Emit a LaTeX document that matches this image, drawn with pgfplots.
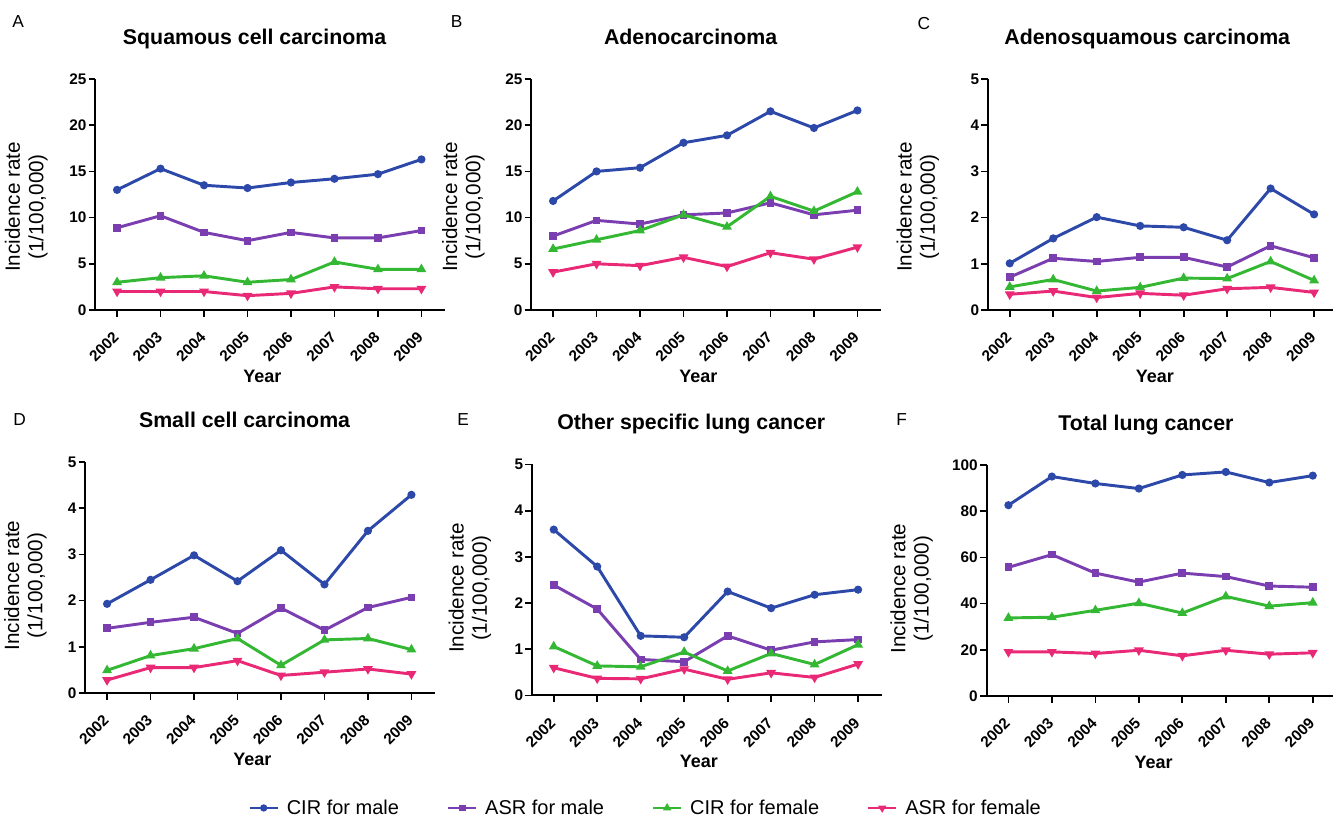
\documentclass[border=0pt]{standalone}
\usepackage{fontspec}
\setmainfont{Liberation Sans}
\usepackage{pgfplots}
\usepackage{pgfplotstable}
\pgfplotsset{compat=1.18}

\definecolor{cblue}{RGB}{44,72,168}
\definecolor{cpurple}{RGB}{122,62,176}
\definecolor{cgreen}{RGB}{52,184,52}
\definecolor{cpink}{RGB}{233,40,118}

\pgfplotstableread{
x cm am cf af
0 13.0 8.9 3.0 2.0
1 15.3 10.2 3.5 2.0
2 13.5 8.4 3.7 2.0
3 13.2 7.5 3.0 1.55
4 13.8 8.4 3.3 1.8
5 14.2 7.8 5.2 2.5
6 14.7 7.8 4.4 2.3
7 16.3 8.6 4.4 2.3
}\dataA
\pgfplotstableread{
x cm am cf af
0 11.8 8.0 6.6 4.1
1 15.0 9.7 7.6 5.0
2 15.4 9.3 8.6 4.8
3 18.1 10.3 10.3 5.7
4 18.9 10.5 9.0 4.7
5 21.5 11.6 12.3 6.2
6 19.7 10.3 10.7 5.5
7 21.6 10.8 12.8 6.8
}\dataB
\pgfplotstableread{
x cm am cf af
0 1.01 0.71 0.50 0.34
1 1.55 1.12 0.66 0.41
2 2.01 1.05 0.41 0.27
3 1.82 1.14 0.49 0.36
4 1.79 1.14 0.69 0.32
5 1.51 0.93 0.68 0.46
6 2.63 1.39 1.05 0.49
7 2.07 1.13 0.64 0.38
}\dataC
\pgfplotstableread{
x cm am cf af
0 1.93 1.40 0.49 0.28
1 2.45 1.53 0.81 0.55
2 2.98 1.64 0.96 0.55
3 2.42 1.29 1.18 0.70
4 3.09 1.84 0.60 0.38
5 2.35 1.36 1.15 0.45
6 3.51 1.85 1.18 0.52
7 4.29 2.07 0.94 0.41
}\dataD
\pgfplotstableread{
x cm am cf af
0 3.59 2.39 1.06 0.60
1 2.79 1.87 0.64 0.37
2 1.29 0.78 0.62 0.36
3 1.26 0.73 0.94 0.57
4 2.25 1.29 0.53 0.35
5 1.89 0.98 0.91 0.49
6 2.18 1.16 0.67 0.39
7 2.29 1.21 1.10 0.68
}\dataE
\pgfplotstableread{
x cm am cf af
0 82.6 55.7 33.8 19.1
1 95.0 61.2 34.1 19.1
2 92.0 53.2 37.1 18.4
3 89.8 49.3 40.2 19.8
4 95.7 53.2 35.9 17.4
5 97.0 51.7 43.1 19.8
6 92.4 47.6 38.9 18.1
7 95.4 47.1 40.4 18.7
}\dataF

\pgfplotsset{
  panel/.style={
    scale only axis,
    width=262.5pt, height=173.25pt,
    anchor=south west,
    axis lines=left,
    axis line style={-, line width=1.5pt, black},
    tick style={line width=1.3pt, black},
    tick align=outside,
    major tick length=5pt,
    xmin=-0.5, xmax=7.55, ymin=0,
    xtick={0,...,7},
    xticklabels={2002,2003,2004,2005,2006,2007,2008,2009},
    xticklabel style={rotate=45, anchor=east, font=\bfseries\fontsize{11.5}{11.5}\selectfont, inner sep=1pt},
    xticklabel shift=13pt,
    yticklabel style={font=\bfseries\fontsize{11.5}{11.5}\selectfont, inner sep=1.5pt},
    /pgf/number format/assume math mode=true,
    title style={at={(0.455,1)}, anchor=base, yshift=20pt, font=\bfseries\fontsize{16}{16}\selectfont},
    xlabel={Year},
    xlabel style={at={(axis description cs:0.477,-0.312)}, anchor=base, font=\bfseries\fontsize{13.5}{13.5}\selectfont},
    ylabel={Incidence rate\\(1/100,000)},
    ylabel style={align=center, anchor=south, rotate=0, font=\fontsize{15.5}{17.5}\selectfont},
    clip=false,
  },
  sm/.style={cblue, line width=2.2pt, mark=*, mark size=1.9pt},
  sa/.style={cpurple, line width=2.2pt, mark=square*, mark size=1.8pt},
  sf/.style={cgreen, line width=2.2pt, mark=triangle*, mark size=2.1pt},
  sp/.style={cpink, line width=2.2pt, mark=triangle*, mark size=2.1pt, every mark/.append style={rotate=180}},
}

\begin{document}
\begin{tikzpicture}
% Panel A
\begin{axis}[panel, at={(71.5pt,381pt)}, ymax=25, ytick={0,5,...,25},
  title={Squamous cell carcinoma},
  ylabel style={at={(axis description cs:-0.123,0.446)}}]
\addplot[sm] table[x=x,y=cm]{\dataA};
\addplot[sa] table[x=x,y=am]{\dataA};
\addplot[sf] table[x=x,y=cf]{\dataA};
\addplot[sp] table[x=x,y=af]{\dataA};
\end{axis}
% Panel B
\begin{axis}[panel, at={(398.5pt,381pt)}, ymax=25, ytick={0,5,...,25},
  title={Adenocarcinoma},
  ylabel style={at={(axis description cs:-0.12,0.446)}}]
\addplot[sm] table[x=x,y=cm]{\dataB};
\addplot[sa] table[x=x,y=am]{\dataB};
\addplot[sf] table[x=x,y=cf]{\dataB};
\addplot[sp] table[x=x,y=af]{\dataB};
\end{axis}
% Panel C
\begin{axis}[panel, at={(741pt,381pt)}, ymax=5, ytick={0,1,...,5},
  title={Adenosquamous carcinoma},
  ylabel style={at={(axis description cs:-0.126,0.446)}}]
\addplot[sm] table[x=x,y=cm]{\dataC};
\addplot[sa] table[x=x,y=am]{\dataC};
\addplot[sf] table[x=x,y=cf]{\dataC};
\addplot[sp] table[x=x,y=af]{\dataC};
\end{axis}
% Panel D
\begin{axis}[panel, at={(64pt,93.75pt)}, ymax=5, ytick={0,1,...,5},
  title={Small cell carcinoma},
  ylabel style={at={(axis description cs:-0.097,0.465)}}]
\addplot[sm] table[x=x,y=cm]{\dataD};
\addplot[sa] table[x=x,y=am]{\dataD};
\addplot[sf] table[x=x,y=cf]{\dataD};
\addplot[sp] table[x=x,y=af]{\dataD};
\end{axis}
% Panel E
\begin{axis}[panel, at={(399pt,91.9pt)}, ymax=5, ytick={0,1,...,5},
  title={Other specific lung cancer},
  ylabel style={at={(axis description cs:-0.103,0.465)}},
  legend columns=4,
  legend style={draw=none, fill=none, at={(0.326,-0.487)}, anchor=center,
    font=\fontsize{15}{15}\selectfont,
    /tikz/every even column/.append style={column sep=34pt},
    /tikz/every odd column/.append style={column sep=4pt}},
  legend image code/.code={\draw[mark repeat=2,mark phase=2,#1,line width=1.6pt] plot coordinates {(0pt,0pt) (10.5pt,0pt) (21pt,0pt)};}]
\addplot[sm] table[x=x,y=cm]{\dataE};
\addplot[sa] table[x=x,y=am]{\dataE};
\addplot[sf] table[x=x,y=cf]{\dataE};
\addplot[sp] table[x=x,y=af]{\dataE};
\legend{CIR for male, ASR for male, CIR for female, ASR for female}
\end{axis}
% Panel F
\begin{axis}[panel, at={(740pt,91.5pt)}, ymax=100, ytick={0,20,...,100},
  title={Total lung cancer},
  ylabel style={at={(axis description cs:-0.14,0.465)}}]
\addplot[sm] table[x=x,y=cm]{\dataF};
\addplot[sa] table[x=x,y=am]{\dataF};
\addplot[sf] table[x=x,y=cf]{\dataF};
\addplot[sp] table[x=x,y=af]{\dataF};
\end{axis}
% panel letters
\begin{scope}[every node/.style={anchor=north west, inner sep=0pt, font=\fontsize{13}{13}\selectfont}]
\node at (9pt,602pt) {A};
\node at (338pt,602pt) {B};
\node at (688pt,600.5pt) {C};
\node at (9.75pt,303.75pt) {D};
\node at (342.75pt,303.75pt) {E};
\node at (672pt,303.75pt) {F};
\end{scope}
\pgfresetboundingbox
\path[use as bounding box] (0pt,0pt) rectangle (999.75pt,613.5pt);
\end{tikzpicture}
\end{document}
